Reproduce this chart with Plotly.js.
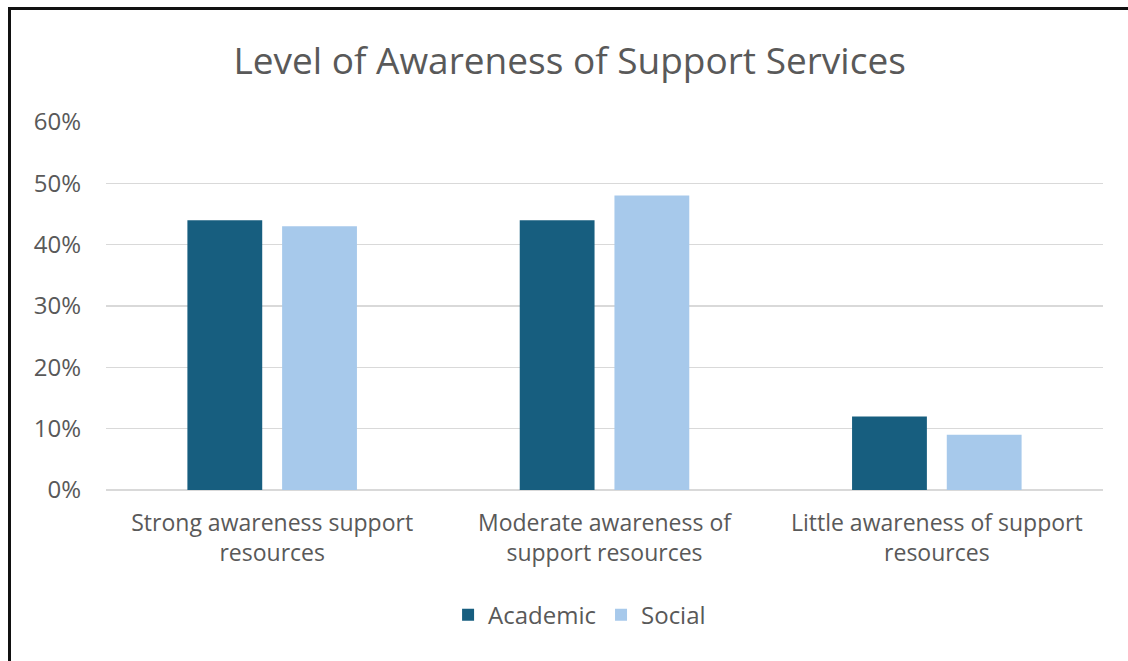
<!DOCTYPE html>
<html>
<head>
<meta charset="utf-8">
<script src="https://cdn.plot.ly/plotly-3.0.1.min.js"></script>
<style>
  html, body { margin: 0; padding: 0; background: #ffffff; }
  #wrap { position: relative; width: 1128px; height: 661px; overflow: hidden; }
  #chart { position: absolute; left: 0; top: 0; width: 1128px; height: 661px; }
  #frame { position: absolute; left: 8px; top: 7px; width: 1200px; height: 651px;
           border-left: 3px solid #111; border-top: 3px solid #111; border-bottom: 1px solid #dcdcdc;
           pointer-events: none; }
</style>
</head>
<body>
<div id="wrap">
  <div id="chart"></div>
  <div id="frame"></div>
</div>
<script>
const categories = [
  "Strong awareness support<br>resources",
  "Moderate awareness of<br>support resources",
  "Little awareness of support<br>resources"
];
const academic = [0.44, 0.44, 0.12];
const social = [0.43, 0.48, 0.09];
const yTickVals = [0, 0.1, 0.2, 0.3, 0.4, 0.5, 0.6];
const yTickText = ["0%", "10%", "20%", "30%", "40%", "50%", "60%"];

const fontFam = "'Open Sans', 'Liberation Sans', sans-serif";
const textColor = "#595959";

const traces = [
  { type: "bar", name: "Academic", x: categories, y: academic,
    marker: { color: "#175e7f" }, hoverinfo: "none" },
  { type: "bar", name: "Social", x: categories, y: social,
    marker: { color: "#a7c9eb" }, hoverinfo: "none" }
];

const layout = {
  width: 1128, height: 661,
  paper_bgcolor: "rgba(0,0,0,0)", plot_bgcolor: "#ffffff",
  margin: { l: 106, r: 25, t: 122, b: 171 },
  barmode: "group", bargap: 0.43, bargroupgap: 0.21,
  title: { text: "Level of Awareness of Support Services",
           font: { family: fontFam, size: 37, color: textColor },
           x: 0.505, xanchor: "center", y: 0.908, yanchor: "middle" },
  xaxis: { type: "category", showgrid: false, zeroline: false, showline: false,
           ticks: "", tickfont: { family: fontFam, size: 23, color: textColor },
           ticklabelstandoff: 17, fixedrange: true },
  yaxis: { range: [0, 0.6], tickvals: yTickVals, ticktext: yTickText,
           showgrid: true, gridcolor: "#d9d9d9", gridwidth: 1.5,
           zeroline: true, zerolinecolor: "#d9d9d9", zerolinewidth: 1.5,
           showline: false, ticks: "", ticklabelstandoff: 24,
           tickfont: { family: fontFam, size: 24, color: textColor }, fixedrange: true },
  showlegend: true,
  legend: { orientation: "h", x: 0.475, xanchor: "center", y: -0.34, yanchor: "middle",
            font: { family: fontFam, size: 24, color: textColor },
            itemwidth: 30, traceorder: "normal" }
};

Plotly.newPlot("chart", traces, layout, { displayModeBar: false, staticPlot: true });
</script>
</body>
</html>
